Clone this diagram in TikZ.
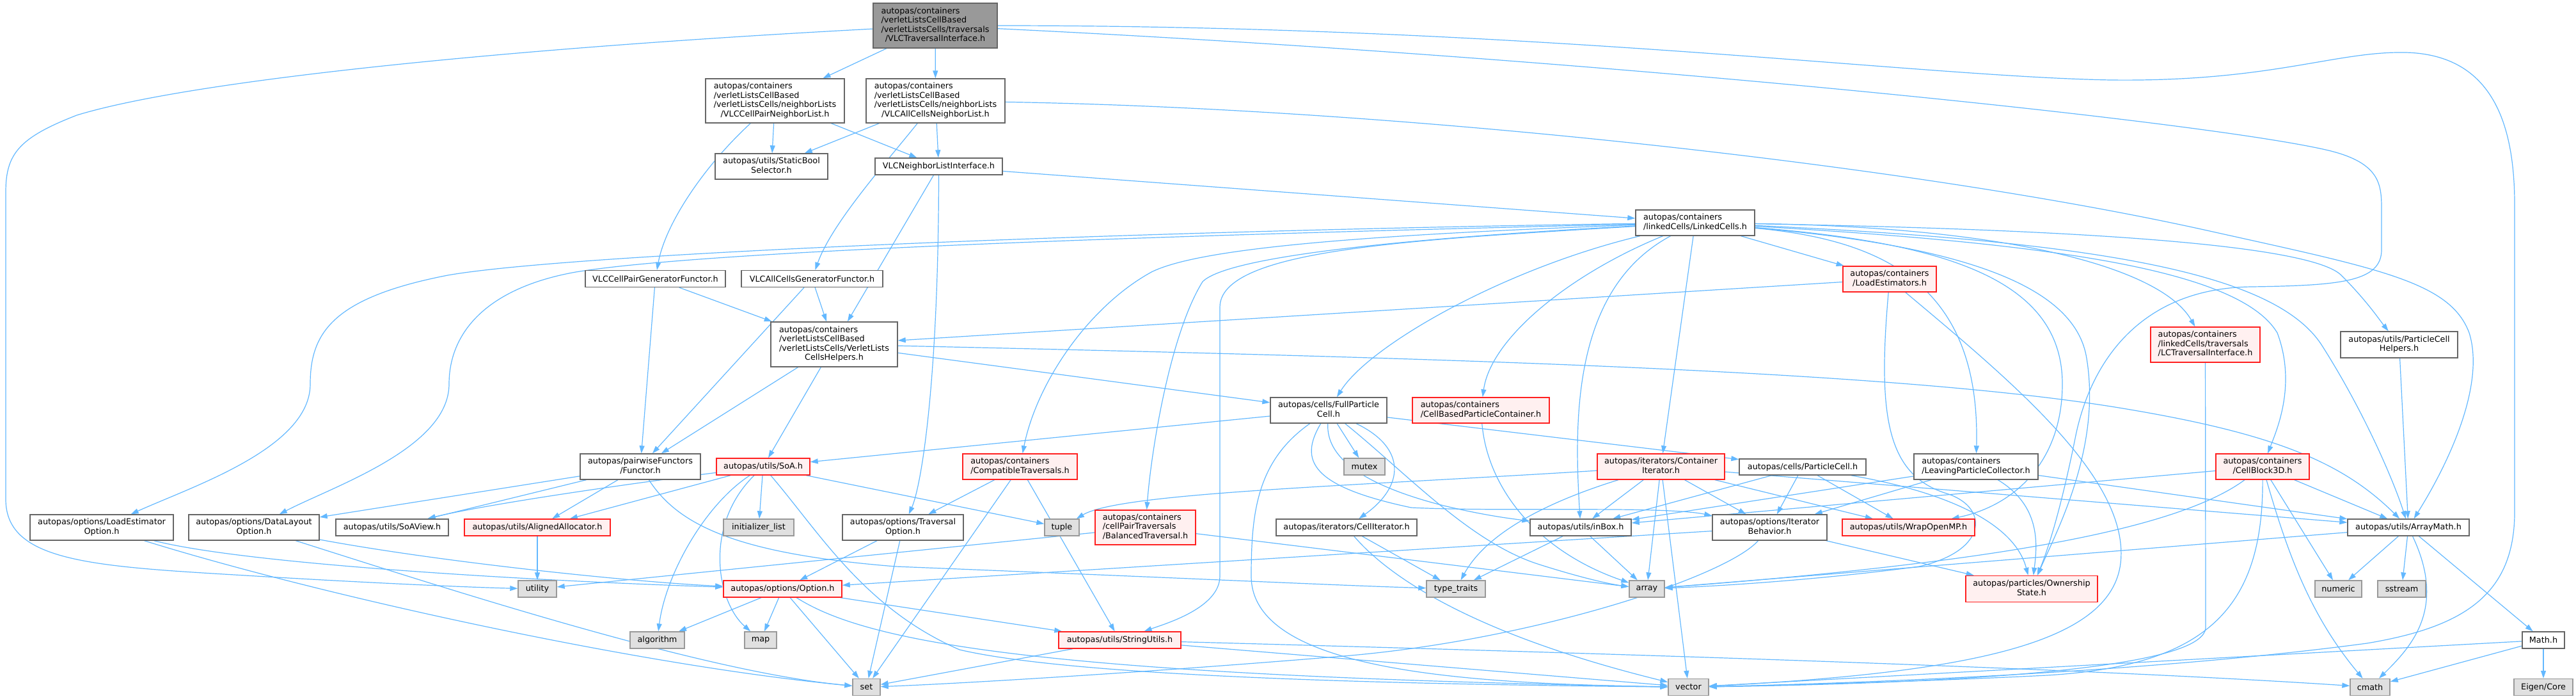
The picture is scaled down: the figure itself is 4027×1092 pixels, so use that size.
\documentclass[tikz,border=0pt]{standalone}
\usepackage{fontspec}
\setmainfont{DejaVu Sans}
\usetikzlibrary{arrows.meta}
\pgfdeclarelayer{bg}
\pgfsetlayers{bg,main}
\definecolor{edgec}{HTML}{63B8FF}
\definecolor{nodeb}{HTML}{666666}
\definecolor{sysb}{HTML}{999999}
\definecolor{sysf}{HTML}{E0E0E0}
\definecolor{redf}{HTML}{FFF0F0}
\definecolor{redb}{HTML}{FF2020}
\definecolor{topf}{HTML}{999999}
\newcommand{\nfont}{\fontsize{12.8}{14.5}\selectfont}
\newcommand{\mlab}[2]{\begin{tabular}{@{}l@{}}#1\\\multicolumn{1}{@{}c@{}}{#2}\end{tabular}}
\newcommand{\mknode}[7]{\node[#6, minimum width=#4pt, minimum height=#5pt] (#1) at (#2,#3) {#7};}
\tikzset{
  box/.style={rectangle, draw=nodeb, line width=1.4pt, fill=white, inner sep=0pt, font=\nfont, text=black},
  sys/.style={box, draw=sysb, fill=sysf},
  trunc/.style={box, draw=redb, fill=redf},
  topn/.style={box, fill=topf},
  conn/.style={draw=edgec, line width=1.2pt, -{Triangle[length=12pt,width=8pt]}}
}
\begin{document}
\begin{tikzpicture}[x=1pt,y=-1pt]
\useasboundingbox (0,0) rectangle (4027,1092);
% nodes
\mknode{top}{1462}{40}{194}{70}{topn}{\mlab{autopas/containers\\/verletListsCellBased\\/verletListsCells/traversals}{/VLCTraversalInterface.h}}
\mknode{cpnl}{1211.5}{157.5}{217}{69}{box}{\mlab{autopas/containers\\/verletListsCellBased\\/verletListsCells/neighborLists}{/VLCCellPairNeighborList.h}}
\mknode{acnl}{1462.5}{157.5}{217}{69}{box}{\mlab{autopas/containers\\/verletListsCellBased\\/verletListsCells/neighborLists}{/VLCAllCellsNeighborList.h}}
\mknode{sbs}{1206}{260}{176}{40}{box}{\mlab{autopas/utils/StaticBool}{Selector.h}}
\mknode{nli}{1467.5}{260}{199}{26}{box}{VLCNeighborListInterface.h}
\mknode{lc}{2650}{348}{186}{40}{box}{\mlab{autopas/containers}{/linkedCells/LinkedCells.h}}
\mknode{cpgf}{1024.5}{435.5}{219}{26}{box}{VLCCellPairGeneratorFunctor.h}
\mknode{acgf}{1269.5}{435.5}{221}{26}{box}{VLCAllCellsGeneratorFunctor.h}
\mknode{vlch}{1304}{538}{198}{70}{box}{\mlab{autopas/containers\\/verletListsCellBased\\/verletListsCells/VerletLists}{CellsHelpers.h}}
\mknode{le}{2954}{436}{146}{40}{trunc}{\mlab{autopas/containers}{/LoadEstimators.h}}
\mknode{lcti}{3447.5}{538.5}{171}{55}{trunc}{\mlab{autopas/containers\\/linkedCells/traversals}{/LCTraversalInterface.h}}
\mknode{pch}{3750.5}{538.5}{183}{41}{box}{\mlab{autopas/utils/ParticleCell}{Helpers.h}}
\mknode{functor}{1001}{729}{188}{40}{box}{\mlab{autopas/pairwiseFunctors}{/Functor.h}}
\mknode{soa}{1193}{729}{146}{26}{trunc}{autopas/utils/SoA.h}
\mknode{leo}{159}{824}{224}{40}{box}{\mlab{autopas/options/LoadEstimator}{Option.h}}
\mknode{dlo}{397}{824}{204}{40}{box}{\mlab{autopas/options/DataLayout}{Option.h}}
\mknode{soaview}{613}{824}{176}{26}{box}{autopas/utils/SoAView.h}
\mknode{aa}{840}{824}{228}{26}{trunc}{autopas/utils/AlignedAllocator.h}
\mknode{il}{1186}{824}{110}{26}{sys}{initializer\_list}
\mknode{to}{1411.5}{824}{189}{40}{box}{\mlab{autopas/options/Traversal}{Option.h}}
\mknode{utility}{840}{920}{60}{26}{sys}{utility}
\mknode{option}{1223.5}{920}{185}{26}{trunc}{autopas/options/Option.h}
\mknode{algorithm}{1027.5}{1000}{85}{26}{sys}{algorithm}
\mknode{map}{1189}{1000}{50}{26}{sys}{map}
\mknode{set}{1354.5}{1073.5}{43}{26}{sys}{set}
\mknode{fpc}{2077}{641}{182}{40}{box}{\mlab{autopas/cells/FullParticle}{Cell.h}}
\mknode{cbpc}{2315}{641}{214}{40}{trunc}{\mlab{autopas/containers}{/CellBasedParticleContainer.h}}
\mknode{ct}{1594.5}{729}{179}{40}{trunc}{\mlab{autopas/containers}{/CompatibleTraversals.h}}
\mknode{mutex}{2133}{729}{64}{26}{sys}{mutex}
\mknode{ci}{2596.5}{729}{199}{40}{trunc}{\mlab{autopas/iterators/Container}{Iterator.h}}
\mknode{tuple}{1660}{824}{54}{26}{sys}{tuple}
\mknode{bt}{1790.5}{824}{157}{54}{trunc}{\mlab{autopas/containers\\/cellPairTraversals}{/BalancedTraversal.h}}
\mknode{cit}{2105}{824}{220}{26}{box}{autopas/iterators/CellIterator.h}
\mknode{inbox}{2471}{824}{158}{26}{box}{autopas/utils/inBox.h}
\mknode{ibh}{2766.5}{824}{179}{40}{box}{\mlab{autopas/options/Iterator}{Behavior.h}}
\mknode{tt}{2276}{920}{92}{26}{sys}{type\_traits}
\mknode{array}{2574.5}{920}{55}{26}{sys}{array}
\mknode{su}{1750.5}{1000}{191}{26}{trunc}{autopas/utils/StringUtils.h}
\mknode{vector}{2639.5}{1073.5}{63}{26}{sys}{vector}
\mknode{pc}{2818}{729.5}{198}{25}{box}{autopas/cells/ParticleCell.h}
\mknode{lpc}{3089}{729}{194}{40}{box}{\mlab{autopas/containers}{/LeavingParticleCollector.h}}
\mknode{cb3d}{3537}{729}{146}{40}{trunc}{\mlab{autopas/containers}{/CellBlock3D.h}}
\mknode{womp}{2983.5}{824}{207}{26}{trunc}{autopas/utils/WrapOpenMP.h}
\mknode{am}{3765}{824}{190}{26}{box}{autopas/utils/ArrayMath.h}
\mknode{os}{3176}{920}{206}{41}{trunc}{\mlab{autopas/particles/Ownership}{State.h}}
\mknode{numeric}{3655.5}{920}{73}{26}{sys}{numeric}
\mknode{sstream}{3754.5}{920}{75}{26}{sys}{sstream}
\mknode{math}{3976}{1000}{66}{26}{box}{Math.h}
\mknode{cmath}{3705}{1073.5}{62}{26}{sys}{cmath}
\mknode{eigen}{3976}{1073.5}{92}{26}{sys}{Eigen/Core}
\begin{pgfonlayer}{bg}
% edges: top
\draw[conn] (top) -- (cpnl);
\draw[conn] (top) -- (acnl);
\draw[conn] (top) .. controls (800,75) and (300,125) .. (120,180) .. controls (30,215) and (9,240) .. (9,300) -- (9,780) .. controls (9,880) and (150,885) .. (400,900) .. controls (600,912) and (750,918) .. (utility);
\draw[conn] (top) .. controls (2400,40) and (3000,120) .. (3300,125) .. controls (3550,128) and (3650,80) .. (3760,82) .. controls (3900,85) and (3931,200) .. (3931,320) -- (3931,800) .. controls (3931,930) and (3850,980) .. (3700,1005) .. controls (3400,1045) and (3000,1065) .. (vector);
\draw[conn] (top) .. controls (2500,90) and (3450,190) .. (3640,235) .. controls (3723,255) and (3723,290) .. (3723,330) -- (3723,390) .. controls (3723,440) and (3660,446) .. (3520,448) .. controls (3350,450) and (3270,560) .. (3245,680) .. controls (3225,780) and (3205,850) .. (os);
% cpnl, acnl
\draw[conn] (cpnl) -- (sbs);
\draw[conn] (cpnl) -- (nli);
\draw[conn] (cpnl) .. controls (1100,260) and (1040,350) .. (cpgf);
\draw[conn] (acnl) -- (sbs);
\draw[conn] (acnl) -- (nli);
\draw[conn] (acnl) .. controls (1380,260) and (1300,350) .. (acgf);
\draw[conn] (acnl) .. controls (2200,170) and (3000,260) .. (3450,360) .. controls (3720,420) and (3830,440) .. (3860,520) .. controls (3885,600) and (3830,720) .. (am);
% nli
\draw[conn] (nli) -- (lc);
\draw[conn] (nli) -- (vlch);
\draw[conn] (nli) .. controls (1467,600) and (1440,760) .. (to);
% generator functors
\draw[conn] (cpgf) -- (vlch);
\draw[conn] (cpgf) -- (functor);
\draw[conn] (acgf) -- (vlch);
\draw[conn] (acgf) -- (functor);
% vlch
\draw[conn] (vlch) -- (fpc);
\draw[conn] (vlch) -- (functor);
\draw[conn] (vlch) -- (soa);
\draw[conn] (vlch) .. controls (2300,560) and (2950,580) .. (3300,635) .. controls (3550,675) and (3660,720) .. (am);
% le
\draw[conn] (le) -- (vlch);
\draw[conn] (le) .. controls (2935,650) and (2950,740) .. (3040,770) .. controls (3110,790) and (3110,860) .. (3000,885) .. controls (2850,905) and (2700,915) .. (array);
\draw[conn] (le) .. controls (3150,600) and (3330,750) .. (3315,880) .. controls (3300,1000) and (3100,1050) .. (vector);
% lc
\draw[conn] (lc) .. controls (1800,360) and (900,395) .. (700,430) .. controls (520,465) and (485,520) .. (485,600) .. controls (485,700) and (300,760) .. (leo);
\draw[conn] (lc) .. controls (1800,368) and (1100,392) .. (900,425) .. controls (760,450) and (702,520) .. (702,600) .. controls (702,700) and (520,760) .. (dlo);
\draw[conn] (lc) .. controls (2100,368) and (1870,390) .. (1800,425) .. controls (1700,480) and (1620,600) .. (ct);
\draw[conn] (lc) .. controls (2200,372) and (1920,400) .. (1880,440) .. controls (1830,520) and (1800,700) .. (bt);
\draw[conn] (lc) .. controls (2200,375) and (1907,390) .. (1907,480) -- (1907,900) .. controls (1907,950) and (1820,975) .. (su);
\draw[conn] (lc) .. controls (2350,420) and (2140,540) .. (fpc);
\draw[conn] (lc) .. controls (2450,430) and (2330,530) .. (cbpc);
\draw[conn] (lc) .. controls (2460,450) and (2460,650) .. (inbox);
\draw[conn] (lc) -- (ci);
\draw[conn] (lc) -- (le);
\draw[conn] (lc) .. controls (2950,375) and (3096,450) .. (lpc);
\draw[conn] (lc) .. controls (3050,380) and (3224,440) .. (3224,600) .. controls (3224,720) and (3150,790) .. (womp);
\draw[conn] (lc) .. controls (3080,385) and (3245,450) .. (3262,560) .. controls (3285,700) and (3215,830) .. (os);
\draw[conn] (lc) .. controls (3150,355) and (3380,420) .. (lcti);
\draw[conn] (lc) .. controls (3200,380) and (3500,420) .. (3560,520) .. controls (3590,600) and (3560,670) .. (cb3d);
\draw[conn] (lc) .. controls (3300,378) and (3560,430) .. (3630,540) .. controls (3700,650) and (3745,760) .. (am);
\draw[conn] (lc) .. controls (3350,360) and (3620,390) .. (3660,430) .. controls (3700,470) and (3720,500) .. (pch);
% lcti, pch
\draw[conn] (lcti) -- (3448,980) .. controls (3448,1050) and (3000,1068) .. (vector);
\draw[conn] (pch) -- (am);
% fpc
\draw[conn] (fpc) -- (soa);
\draw[conn] (fpc) -- (pc);
\draw[conn] (fpc) -- (mutex);
\draw[conn] (fpc) .. controls (1965,720) and (1956,800) .. (1956,900) .. controls (1956,1050) and (2300,1068) .. (vector);
\draw[conn] (fpc) .. controls (2073,710) and (2120,755) .. (2257,790) .. controls (2320,805) and (2360,810) .. (inbox);
\draw[conn] (fpc) .. controls (2030,720) and (2050,760) .. (2206,793) .. controls (2350,800) and (2600,790) .. (ibh);
\draw[conn] (fpc) .. controls (2200,700) and (2195,760) .. (cit);
\draw[conn] (fpc) .. controls (2200,740) and (2300,850) .. (2410,883) .. controls (2480,905) and (2520,913) .. (array);
% cbpc, ct, bt, to
\draw[conn] (cbpc) .. controls (2325,760) and (2400,860) .. (array);
\draw[conn] (ct) -- (to);
\draw[conn] (ct) -- (set);
\draw[conn] (ct) -- (su);
\draw[conn] (bt) -- (array);
\draw[conn] (bt) -- (utility);
\draw[conn] (to) -- (set);
\draw[conn] (to) -- (option);
% options
\draw[conn] (leo) .. controls (500,930) and (1000,1040) .. (set);
\draw[conn] (leo) .. controls (400,885) and (900,910) .. (option);
\draw[conn] (dlo) .. controls (700,920) and (1100,1050) .. (set);
\draw[conn] (dlo) .. controls (700,880) and (1000,910) .. (option);
% functor, soa
\draw[conn] (functor) -- (dlo);
\draw[conn] (functor) -- (soaview);
\draw[conn] (functor) -- (aa);
\draw[conn] (functor) .. controls (1060,820) and (1150,865) .. (1400,885) .. controls (1900,905) and (2100,915) .. (tt);
\draw[conn] (soa) .. controls (950,760) and (750,790) .. (soaview);
\draw[conn] (soa) -- (aa);
\draw[conn] (soa) -- (il);
\draw[conn] (soa) -- (tuple);
\draw[conn] (soa) .. controls (1100,790) and (1040,900) .. (algorithm);
\draw[conn] (soa) .. controls (1100,820) and (1120,940) .. (map);
\draw[conn] (soa) .. controls (1280,830) and (1350,950) .. (1500,1015) .. controls (1700,1062) and (2300,1070) .. (vector);
\draw[conn] (aa) -- (utility);
% option, su
\draw[conn] (option) -- (algorithm);
\draw[conn] (option) -- (map);
\draw[conn] (option) -- (set);
\draw[conn] (option) -- (su);
\draw[conn] (option) .. controls (1350,1000) and (1600,1055) .. (vector);
\draw[conn] (su) -- (set);
\draw[conn] (su) -- (vector);
\draw[conn] (su) .. controls (2300,1015) and (3200,1040) .. (cmath);
% inbox, cit, ci
\draw[conn] (inbox) -- (tt);
\draw[conn] (inbox) -- (array);
\draw[conn] (cit) -- (tt);
\draw[conn] (cit) .. controls (2170,900) and (2300,990) .. (vector);
\draw[conn] (ci) .. controls (2100,760) and (1750,770) .. (tuple);
\draw[conn] (ci) .. controls (2400,790) and (2320,840) .. (tt);
\draw[conn] (ci) -- (inbox);
\draw[conn] (ci) -- (array);
\draw[conn] (ci) -- (vector);
\draw[conn] (ci) -- (ibh);
\draw[conn] (ci) -- (womp);
\draw[conn] (ci) -- (am);
% pc, lpc
\draw[conn] (pc) -- (inbox);
\draw[conn] (pc) -- (ibh);
\draw[conn] (pc) -- (womp);
\draw[conn] (pc) .. controls (3050,770) and (3150,820) .. (os);
\draw[conn] (lpc) -- (inbox);
\draw[conn] (lpc) -- (ibh);
\draw[conn] (lpc) -- (am);
\draw[conn] (lpc) .. controls (3190,790) and (3185,850) .. (os);
% cb3d
\draw[conn] (cb3d) -- (inbox);
\draw[conn] (cb3d) .. controls (3400,830) and (3100,880) .. (array);
\draw[conn] (cb3d) .. controls (3538,950) and (3450,1040) .. (3200,1055) .. controls (3000,1065) and (2800,1070) .. (vector);
\draw[conn] (cb3d) .. controls (3575,860) and (3610,960) .. (cmath);
\draw[conn] (cb3d) -- (numeric);
\draw[conn] (cb3d) -- (am);
% ibh
\draw[conn] (ibh) -- (option);
\draw[conn] (ibh) -- (os);
\draw[conn] (ibh) .. controls (2700,900) and (2400,1000) .. (2100,1025) .. controls (1800,1050) and (1500,1068) .. (set);
% am, math
\draw[conn] (am) -- (numeric);
\draw[conn] (am) -- (sstream);
\draw[conn] (am) -- (math);
\draw[conn] (am) .. controls (3825,950) and (3770,1010) .. (cmath);
\draw[conn] (am) -- (array);
\draw[conn] (math) -- (eigen);
\draw[conn] (math) -- (cmath);
\draw[conn] (math) -- (vector);
\end{pgfonlayer}
\end{tikzpicture}
\end{document}
